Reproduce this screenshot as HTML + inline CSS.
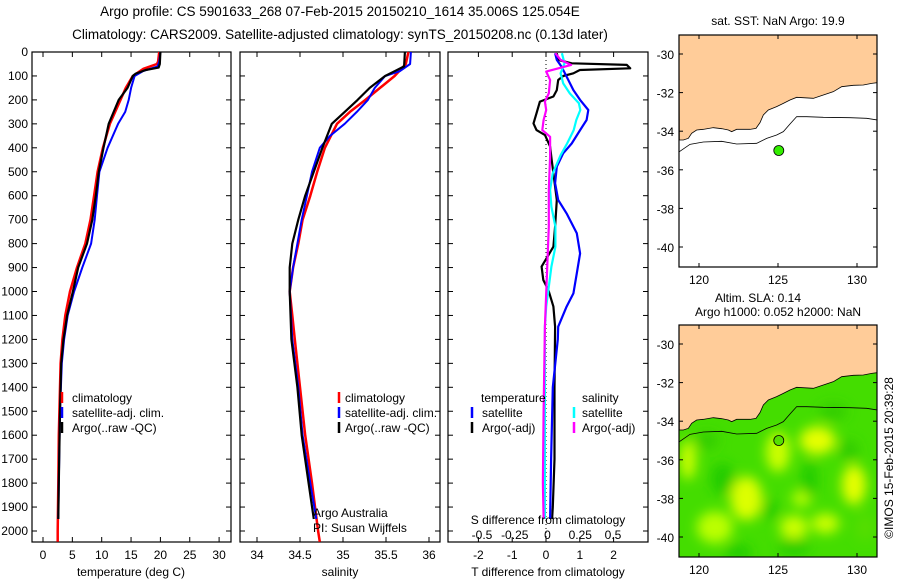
<!DOCTYPE html>
<html><head><meta charset="utf-8"><style>
html,body{margin:0;padding:0;background:#fff;}
svg{display:block;font-family:"Liberation Sans",sans-serif;}
</style></head><body>
<svg id="fig" width="900" height="580" viewBox="0 0 900 580" xmlns="http://www.w3.org/2000/svg">
<text x="340" y="16" font-size="13.5" text-anchor="middle">Argo profile: CS 5901633_268 07-Feb-2015 20150210_1614 35.006S 125.054E</text>
<text x="340" y="39" font-size="13.5" text-anchor="middle">Climatology: CARS2009. Satellite-adjusted climatology: synTS_20150208.nc (0.13d later)</text>
<g id="g"></g>
</svg>
<script>
// ---- data ----
const tempClimDepth=[0,40,50,70,100,150,200,300,400,500,600,700,800,900,1000,1100,1200,1300,1400,1600,1800,2000,2045];
const tempClim=[19.8,19.6,19.4,17.1,15.3,14.1,13.2,11.4,10.2,9.3,8.7,8.1,7.2,5.8,4.6,3.8,3.3,3.0,2.9,2.7,2.6,2.5,2.5];
const tempSatDepth=[0,40,60,80,100,150,200,250,300,400,500,600,700,800,900,1000,1100,1200,1300,1500,1800,1950];
const tempSat=[20.0,19.8,19.5,17.0,15.6,15.0,14.6,14.0,12.8,11.0,9.6,9.2,8.8,8.2,6.7,5.3,4.2,3.6,3.2,2.9,2.7,2.6];
const tempArgoDepth=[0,50,65,75,90,100,150,200,300,400,500,600,700,800,900,1000,1100,1200,1300,1500,1800,1950];
const tempArgo=[20.0,19.9,19.7,17.5,15.8,15.3,14.4,12.9,11.2,10.3,9.5,9.0,8.4,7.5,6.0,5.1,4.1,3.5,3.1,2.9,2.7,2.6];

const salClimDepth=[0,50,100,150,200,250,300,400,500,600,700,800,900,1000,1100,1200,1400,1600,1800,2000,2045];
const salClim=[35.76,35.73,35.6,35.43,35.26,35.08,34.93,34.79,34.7,34.62,34.53,34.48,34.42,34.38,34.41,34.44,34.5,34.56,34.64,34.71,34.73];
const salSatDepth=[0,50,80,100,150,200,250,300,350,400,500,600,700,800,900,1000,1200,1400,1600,1800,1950];
const salSat=[35.79,35.78,35.66,35.49,35.37,35.29,35.16,35.02,34.85,34.73,34.64,34.58,34.52,34.47,34.42,34.38,34.41,34.48,34.53,34.62,34.69];
const salArgoDepth=[0,60,80,100,150,200,250,300,400,500,600,700,800,900,1000,1200,1400,1600,1800,1950];
const salArgo=[35.72,35.71,35.6,35.49,35.31,35.17,35.02,34.87,34.76,34.66,34.56,34.48,34.41,34.38,34.38,34.4,34.47,34.52,34.6,34.66];

const dTArgoDepth=[5,33,47,54,68,75,89,100,117,159,186,207,256,298,326,347,395,451,562,618,729,813,896,952,994,1063,1147,1400,1700,1900,1950];
const dTArgo=[0.32,0.36,0.76,2.39,2.49,1.0,0.81,0.51,0.36,0.32,0.22,-0.18,-0.28,-0.37,-0.28,-0.03,0.12,0.17,0.27,0.32,0.27,0.22,-0.13,-0.08,0.07,0.22,0.27,0.25,0.25,0.2,0.18];
const dTSatDepth=[5,33,61,89,117,159,200,242,284,326,382,423,479,548,618,674,757,841,924,1008,1063,1147,1200,1400,1700,1950];
const dTSat=[0.27,0.32,0.46,0.56,0.66,0.81,1.01,1.25,1.2,1.01,0.76,0.51,0.32,0.27,0.36,0.61,0.91,1.01,0.91,0.81,0.61,0.36,0.35,0.2,0.15,0.12];
const dSSatDepth=[5,47,89,131,173,214,242,284,326,382,431,507,576,646,729,813,896,980,1063,1147,1500,1950];
const dSSat=[0.11,0.13,0.10,0.12,0.17,0.24,0.25,0.22,0.20,0.15,0.10,0.04,0.02,0.03,0.06,0.06,0.03,0.01,-0.01,-0.02,-0.02,-0.02];
const dSArgoDepth=[5,33,54,82,117,173,207,242,284,326,354,437,576,729,868,1008,1147,1500,1800,1950];
const dSArgo=[0.06,0.10,0.18,-0.01,0.02,0.01,-0.02,-0.01,-0.03,-0.04,0.02,0.02,0.01,0.01,0,-0.01,-0.02,-0.03,-0.035,-0.03];

const depthTicks=[0,100,200,300,400,500,600,700,800,900,1000,1100,1200,1300,1400,1500,1600,1700,1800,1900,2000];
const tempTicks=[0,5,10,15,20,25,30];
const salTicks=[34,34.5,35,35.5,36];
const dTTicks=[-2,-1,0,1,2];
const dSTicks=[-0.5,-0.25,0,0.25,0.5];
const latTicks=[-30,-32,-34,-36,-38,-40];
const lonTicks=[120,125,130];

// ---- helpers ----
const NS="http://www.w3.org/2000/svg";
const G=document.getElementById('g');
function el(tag,attrs,parent){const e=document.createElementNS(NS,tag);for(const k in attrs)e.setAttribute(k,attrs[k]);(parent||G).appendChild(e);return e;}
function txt(x,y,s,anchor,size,parent){const t=el('text',{x:x,y:y,'font-size':size||12,'text-anchor':anchor||'middle'},parent);t.textContent=s;return t;}
const TOP=52,BOT=542;
const yD=d=>TOP+d*0.2395;
function line(xs,ds,xf,color,w,name){
  const pts=xs.map((v,i)=>xf(v).toFixed(1)+','+yD(ds[i]).toFixed(1)).join(' ');
  const p=el('polyline',{points:pts,fill:'none',stroke:color,'stroke-width':w||2.2,'stroke-linejoin':'round'});
  
  
}
function panel(x0,x1,name){
  const r=el('rect',{x:x0,y:TOP,width:x1-x0,height:BOT-TOP,fill:'none',stroke:'#000','stroke-width':1.2});
  
  
  depthTicks.forEach(d=>{const y=yD(d);el('line',{x1:x0,x2:x0+5,y1:y,y2:y,stroke:'#000'});el('line',{x1:x1,x2:x1-5,y1:y,y2:y,stroke:'#000'});});
}
function xTicks(ticks,xf,x0,labels){
  ticks.forEach(t=>{const x=xf(t);el('line',{x1:x,x2:x,y1:BOT,y2:BOT-5,stroke:'#000'});el('line',{x1:x,x2:x,y1:TOP,y2:TOP+5,stroke:'#000'});
   if(labels){const lt=txt(x,559,String(t));}});
}
function legendMark(x,y,color){el('line',{x1:x,x2:x,y1:y-10,y2:y+1,stroke:color,'stroke-width':2.5});}

// ---- panel 1: temperature ----
const xT=v=>43+v*5.87;
panel(32,231,'temperature-panel');
xTicks(tempTicks,xT,32,true);
depthTicks.forEach(d=>{const t=txt(28,yD(d)+4,String(d),'end');});
line(tempClim,tempClimDepth,xT,'#ff0000',2.5,'temp-climatology-line');
line(tempSat,tempSatDepth,xT,'#0000ff',2,'temp-satellite-line');
line(tempArgo,tempArgoDepth,xT,'#000000',2.2,'temp-argo-line');
let t=txt(131,576,'temperature (deg C)');
[['climatology','#ff0000'],['satellite-adj. clim.','#0000ff'],['Argo(..raw -QC)','#000']].forEach((e,i)=>{const y=402+i*15;legendMark(62,y,e[1]);const lt=txt(72,y,e[0],'start');});

// ---- panel 2: salinity ----
const xS=v=>257+(v-34)*86;
panel(240,440,'salinity-panel');
xTicks(salTicks,xS,240,true);
line(salClim,salClimDepth,xS,'#ff0000',2.5,'sal-climatology-line');
line(salSat,salSatDepth,xS,'#0000ff',2,'sal-satellite-line');
line(salArgo,salArgoDepth,xS,'#000000',2.2,'sal-argo-line');
t=txt(340,576,'salinity');
[['climatology','#ff0000'],['satellite-adj. clim.','#0000ff'],['Argo(..raw -QC)','#000']].forEach((e,i)=>{const y=402+i*15;legendMark(339,y,e[1]);const lt=txt(345,y,e[0],'start');});
t=txt(313,517,'Argo Australia','start');
t=txt(313,532,'PI: Susan Wijffels','start');

// ---- panel 3: differences ----
const xDT=v=>546+v*33.8;
const xDS=v=>547.5+v*131;
panel(448,648,'difference-panel');
xTicks(dTTicks,xDT,448,true);
el('line',{x1:xDT(0),x2:xDT(0),y1:TOP,y2:BOT,stroke:'#000','stroke-width':1,'stroke-dasharray':'1,3'});
line(dTArgo,dTArgoDepth,xDT,'#000000',2.2,'dT-argo-line');
line(dTSat,dTSatDepth,xDT,'#0000ff',2.2,'dT-satellite-line');
line(dSSat,dSSatDepth,xDS,'#00ffff',2.2,'dS-satellite-line');
line(dSArgo,dSArgoDepth,xDS,'#ff00ff',2.2,'dS-argo-line');
dSTicks.forEach(v=>{const lt=txt(xDS(v),539,String(v));});
t=txt(548,524,'S difference from climatology');
t=txt(548,576,'T difference from climatology');
t=txt(481,402,'temperature','start');
t=txt(582,402,'salinity','start');
[[472,482,'satellite','#0000ff',417],[472,482,'Argo(-adj)','#000',432],[574,582,'satellite','#00ffff',417],[574,582,'Argo(-adj)','#ff00ff',432]].forEach(e=>{legendMark(e[0],e[4],e[3]);const lt=txt(e[1],e[4],e[2],'start');});

// ---- maps ----
const coast=[[88,420],[100,420],[115,415],[125,400],[140,390],[160,388],[190,383],[215,386],[235,390],[245,395],[260,388],[300,388],[318,385],[330,368],[340,345],[355,330],[380,320],[400,310],[420,300],[440,292],[490,295],[520,285],[550,275],[575,260],[610,256],[640,255],[665,250],[682,248]];
const iso=[[88,455],[120,433],[160,426],[215,424],[260,432],[320,430],[350,415],[380,405],[400,395],[420,372],[440,350],[470,350],[520,352],[600,353],[650,355],[682,360]];
const MX0=679,MX1=877,MW=198,MH=232;
const lonX=l=>699+(l-120)*15.8;
const latY=(l,y0)=>y0+19+(-30-l)*19.3;
function map(y0,name,green){
  const g=el('g',{});
  
  
  const cid='clip'+y0;
  const cp=el('clipPath',{id:cid},g);el('rect',{x:MX0,y:y0,width:MW,height:MH},cp);
  const inner=el('g',{'clip-path':'url(#'+cid+')'},g);
  el('rect',{x:MX0,y:y0,width:MW,height:MH,fill:green?'#44dd00':'#fff'},inner);
  if(green){
    const f=el('filter',{id:'bl',x:'-50%',y:'-50%',width:'200%',height:'200%'},g);el('feGaussianBlur',{stdDeviation:6},f);
    const fg=el('g',{filter:'url(#bl)'},inner);
    [[125,-35.6,12,20,'#ccff00'],[127.5,-35,18,14,'#e6ff00'],[123,-38,16,22,'#ddff00'],[129.8,-37.3,12,20,'#e6ff00'],[119.3,-36,8,20,'#ccff00'],[121,-39.5,18,16,'#bbff00'],[126,-39.5,14,12,'#ccff00'],[128,-39.3,14,10,'#ccff00'],[126.5,-38,10,8,'#bbff00'],[121.5,-37,12,16,'#22cc00'],[127,-37,8,18,'#22cc00'],[124.5,-38.6,8,10,'#22cc00'],[130.5,-39.5,10,14,'#55dd00'],[126,-40.5,16,8,'#22cc00'],[120.5,-35,12,8,'#33cc00'],[128.5,-33.5,14,8,'#33cc00'],[129.5,-35.5,10,10,'#33cc00'],[122.5,-40.8,14,8,'#22cc00']].forEach(b=>{
      el('ellipse',{cx:lonX(b[0]),cy:latY(b[1],y0),rx:b[2],ry:b[3],fill:b[4]},fg);});
  }
  const cpts=coast.map(p=>(650+p[0]/3)+','+(y0+p[1]/3-35)).join(' ');
  el('polygon',{points:MX0+','+y0+' '+cpts+' '+MX1+','+y0,fill:'#ffcc99',stroke:'#000','stroke-width':0.8},inner);
  el('polyline',{points:iso.map(p=>(650+p[0]/3)+','+(y0+p[1]/3-35)).join(' '),fill:'none',stroke:'#000','stroke-width':0.8},inner);
  el('rect',{x:MX0,y:y0,width:MW,height:MH,fill:'none',stroke:'#000','stroke-width':1.2},g);
  latTicks.forEach(l=>{const y=latY(l,y0);el('line',{x1:MX0,x2:MX0+4,y1:y,y2:y,stroke:'#000'},g);el('line',{x1:MX1,x2:MX1-4,y1:y,y2:y,stroke:'#000'},g);const lt=txt(674,y+5,String(l),'end',12,g);});
  lonTicks.forEach(l=>{const x=lonX(l);el('line',{x1:x,x2:x,y1:y0+MH,y2:y0+MH-4,stroke:'#000'},g);el('line',{x1:x,x2:x,y1:y0,y2:y0+4,stroke:'#000'},g);const lt=txt(x,y0+MH+17,String(l),'middle',12,g);});
  const dot=el('circle',{cx:lonX(125.05),cy:latY(-35.0,y0),r:5,fill:green?'#55e000':'#33ee00',stroke:'#000','stroke-width':0.8},g);
  
  
}
map(35,'sst-map',false);
map(325,'sla-map',true);
t=txt(778,25,'sat. SST: NaN Argo: 19.9');
t=txt(758,302,'Altim. SLA: 0.14');
t=txt(778,316,'Argo h1000: 0.052 h2000: NaN');
t=txt(0,0,'©IMOS 15-Feb-2015 20:39:28');t.setAttribute('transform','translate(893,458) rotate(-90)');
</script>
</body></html>
